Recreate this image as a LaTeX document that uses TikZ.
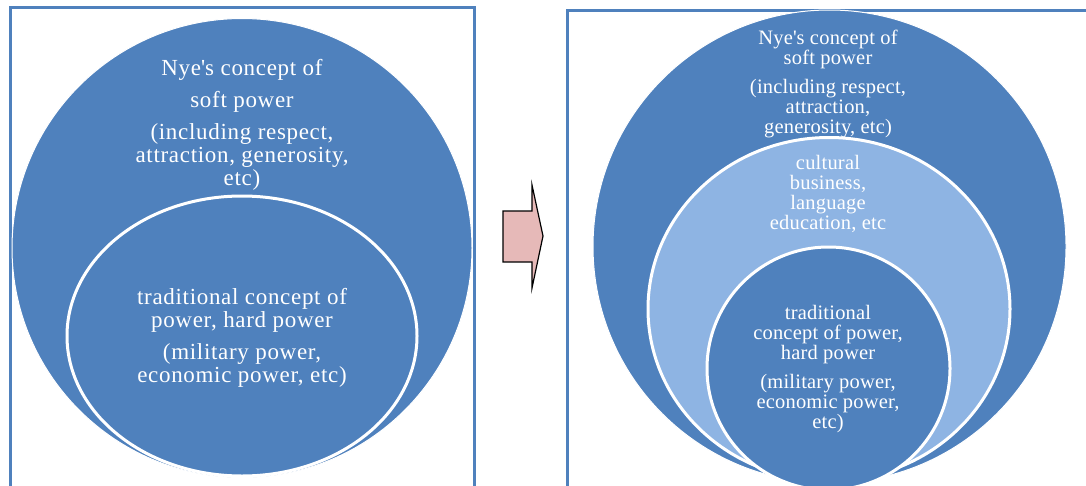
\documentclass[tikz,border=0pt]{standalone}
\usepackage{fontspec}
\setmainfont{Liberation Serif}
\usetikzlibrary{shapes.geometric}
\definecolor{dblue}{HTML}{4F81BD}
\definecolor{lblue}{HTML}{8EB4E3}
\definecolor{apink}{HTML}{E6B9B8}
\newcommand{\apos}{\textquotesingle}
\tikzset{
  framebox/.style={draw=dblue, line width=3pt},
  bigdisc/.style={ellipse, fill=dblue, draw=white, line width=1pt, inner sep=0pt},
  ringdisc/.style={ellipse, draw=white, line width=3pt, inner sep=0pt},
  lbl/.style={text=white, align=center, inner sep=0pt},
  lblL/.style={lbl, font=\fontsize{23}{23}\selectfont\addfontfeatures{LetterSpace=3}},
  lblR/.style={lbl, font=\fontsize{20.5}{20}\selectfont\addfontfeatures{LetterSpace=1}},
}
\begin{document}
\begin{tikzpicture}[x=1pt,y=-1pt]
\useasboundingbox (0,0) rectangle (1086,485);
\begin{scope}
\clip (0,0) rectangle (1086,485);
% frames
\draw[framebox] (10,500) -- (10,7.5) -- (474,7.5) -- (474,500);
\draw[framebox] (567,500) -- (567,10) -- (1100,10);
% left panel
\node[bigdisc, minimum width=460pt, minimum height=459pt] (outerL) at (242,248) {};
\node[ringdisc, fill=dblue, minimum width=350pt, minimum height=280pt] (innerL) at (242,336) {};
\node[lblL] (txtOL) at (242,124.5) {Nye\apos s concept of\\[9pt]soft power\\[9pt](including respect,\\attraction, generosity,\\etc)};
\node[lblL] (txtIL) at (242,337.5) {traditional concept of\\power, hard power\\[9pt](military power,\\economic power, etc)};
% arrow
\draw[line width=1.2pt, fill=apink, line join=miter]
  (503,211) -- (532,211) -- (532,185) -- (543,236) -- (532,288) -- (532,262) -- (503,262) -- cycle;
% right panel
\node[bigdisc, minimum width=473pt, minimum height=473pt] (outerR) at (829.5,246.5) {};
\node[ringdisc, fill=lblue, minimum width=362pt, minimum height=343pt] (midR) at (829,309) {};
\node[ringdisc, fill=dblue, minimum width=243pt, minimum height=243pt] (innerR) at (828.5,368.5) {};
\node[lblR] (txtOR) at (828,83.5) {Nye\apos s concept of\\soft power\\[9pt](including respect,\\attraction,\\generosity, etc)};
\node[lblR] (txtMR) at (828,194) {cultural\\business,\\language\\education, etc};
\node[lblR] (txtIR) at (828,369) {traditional\\concept of power,\\hard power\\[9pt](military power,\\economic power,\\etc)};
\end{scope}
\end{tikzpicture}
\end{document}
